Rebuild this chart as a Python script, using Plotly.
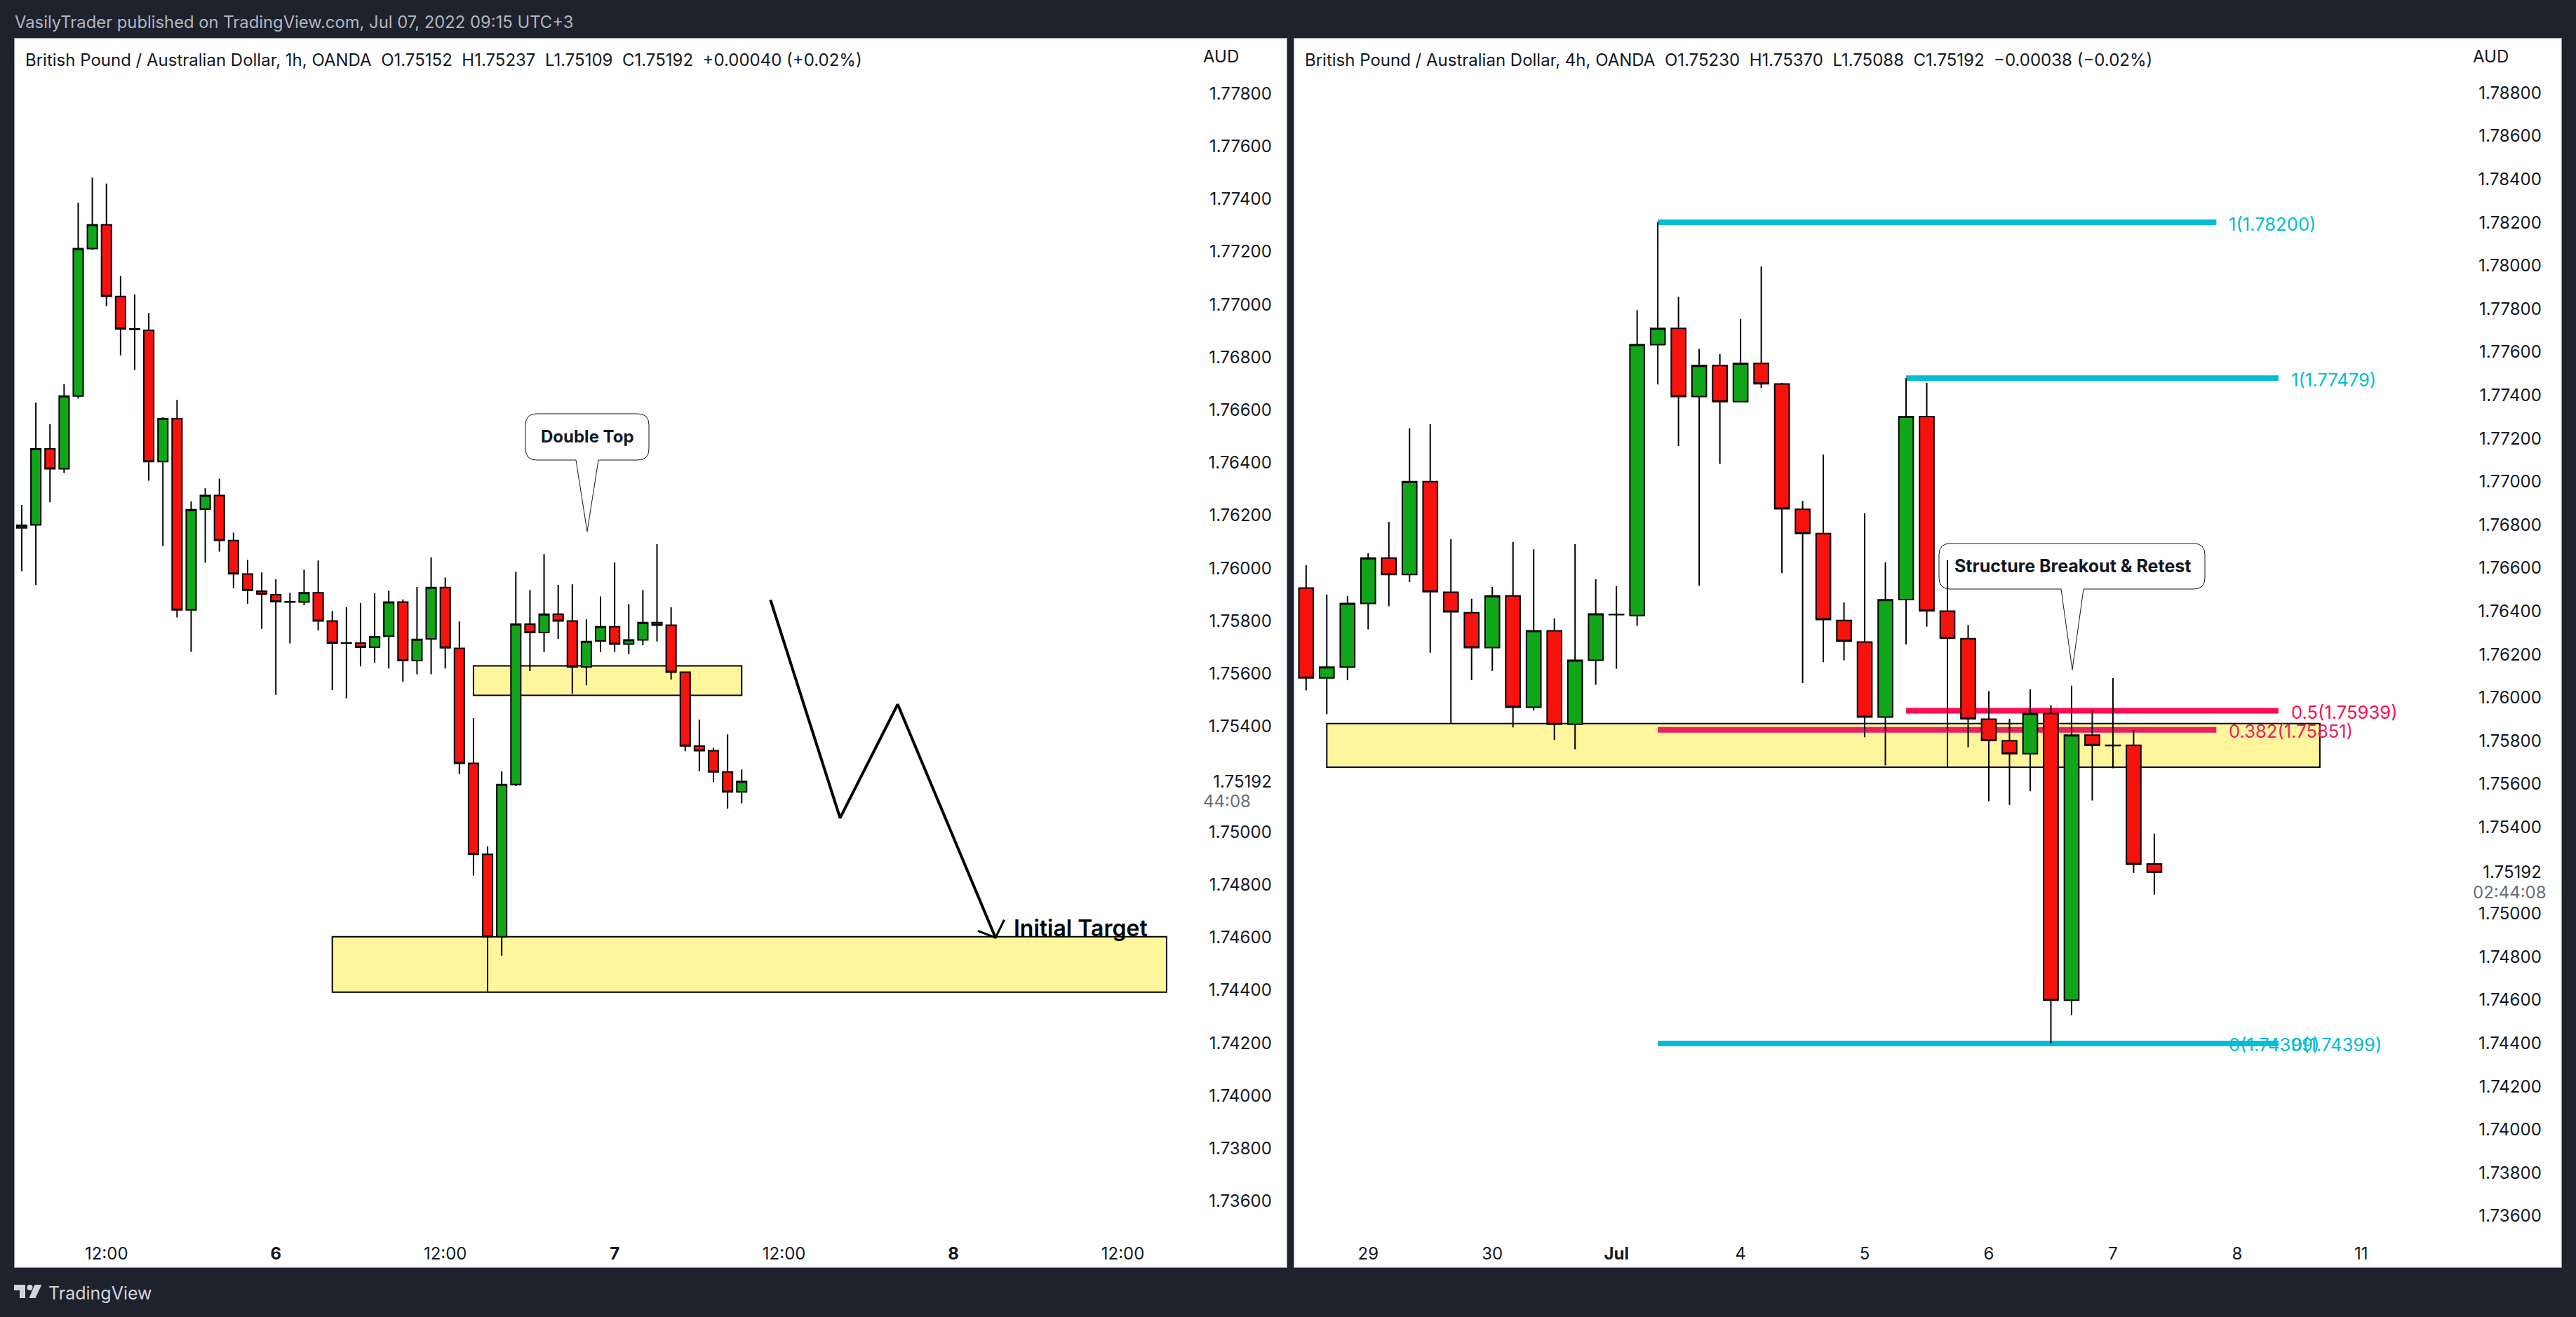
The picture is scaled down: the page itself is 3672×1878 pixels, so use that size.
import plotly.graph_objects as go

W, H = 3672, 1878
BG = '#1E222D'
TEXT = '#131722'
UP = '#11A61A'
DOWN = '#F7130D'
ZONE = '#FFF59D'
CYAN = '#00BCD4'
PINK = '#E91E63'
RED = '#FF0A50'
FONT = 'Inter'

# 1h chart, first bar is Jul 5 06:00
left_open = [1.76153, 1.76164, 1.76453, 1.76377, 1.76653, 1.77212, 1.77302, 1.77030, 1.76907, 1.76902,
             1.76404, 1.76567, 1.75842, 1.76224, 1.76276, 1.76105, 1.75978, 1.75913, 1.75900, 1.75873,
             1.75872, 1.75907, 1.75800, 1.75717, 1.75716, 1.75700, 1.75742, 1.75872, 1.75650, 1.75732,
             1.75927, 1.75696, 1.75260, 1.74915, 1.74603, 1.75180, 1.75788, 1.75756, 1.75826, 1.75800,
             1.75626, 1.75724, 1.75778, 1.75712, 1.75728, 1.75794, 1.75784, 1.75606, 1.75326, 1.75308,
             1.75228, 1.75152]
left_high = [1.76240, 1.76628, 1.76546, 1.76698, 1.77386, 1.77481, 1.77458, 1.77108, 1.77038, 1.76968,
             1.76572, 1.76638, 1.76253, 1.76303, 1.76340, 1.76135, 1.76032, 1.75984, 1.75958, 1.75907,
             1.75995, 1.76029, 1.75838, 1.75852, 1.75868, 1.75905, 1.75915, 1.75882, 1.75929, 1.76041,
             1.75965, 1.75798, 1.75432, 1.74945, 1.75230, 1.75987, 1.75917, 1.76053, 1.75937, 1.75939,
             1.75806, 1.75893, 1.76021, 1.75864, 1.75917, 1.76091, 1.75852, 1.75606, 1.75426, 1.75320,
             1.75370, 1.75237]
left_low = [1.75989, 1.75936, 1.76250, 1.76361, 1.76643, 1.77207, 1.76994, 1.76807, 1.76752, 1.76332,
            1.76084, 1.75813, 1.75683, 1.76021, 1.76063, 1.75924, 1.75866, 1.75770, 1.75520, 1.75715,
            1.75860, 1.75764, 1.75538, 1.75506, 1.75628, 1.75642, 1.75620, 1.75570, 1.75598, 1.75598,
            1.75620, 1.75220, 1.74835, 1.74393, 1.74531, 1.75174, 1.75610, 1.75682, 1.75732, 1.75524,
            1.75556, 1.75682, 1.75682, 1.75674, 1.75708, 1.75722, 1.75578, 1.75306, 1.75230, 1.75190,
            1.75089, 1.75109]
left_close = [1.76163, 1.76453, 1.76377, 1.76653, 1.77212, 1.77302, 1.77031, 1.76907, 1.76905, 1.76404,
              1.76567, 1.75842, 1.76222, 1.76276, 1.76106, 1.75979, 1.75916, 1.75902, 1.75873, 1.75872,
              1.75907, 1.75800, 1.75716, 1.75716, 1.75700, 1.75740, 1.75872, 1.75650, 1.75730, 1.75927,
              1.75698, 1.75260, 1.74915, 1.74603, 1.75180, 1.75788, 1.75756, 1.75826, 1.75800, 1.75626,
              1.75722, 1.75778, 1.75712, 1.75728, 1.75794, 1.75784, 1.75606, 1.75326, 1.75308, 1.75228,
              1.75152, 1.75192]
left_x = list(range(len(left_open)))

# 4h chart
right_open = [1.76507, 1.76091, 1.76141, 1.76436, 1.76646, 1.76570, 1.77000, 1.76488, 1.76393, 1.76231,
              1.76471, 1.75955, 1.76309, 1.75877, 1.76173, 1.76384, 1.76380, 1.77634, 1.77709, 1.77394,
              1.77537, 1.77370, 1.77547, 1.77452, 1.76872, 1.76760, 1.76357, 1.76257, 1.75910, 1.76454,
              1.77301, 1.76400, 1.76273, 1.75900, 1.75800, 1.75740, 1.75926, 1.74599, 1.75826, 1.75779,
              1.75779, 1.75230]
right_high = [1.76613, 1.76477, 1.76471, 1.76669, 1.76814, 1.77247, 1.77265, 1.76734, 1.76458, 1.76512,
              1.76721, 1.76687, 1.76367, 1.76710, 1.76548, 1.76516, 1.77794, 1.78200, 1.77856, 1.77614,
              1.77591, 1.77753, 1.77996, 1.77457, 1.76911, 1.77125, 1.76441, 1.76853, 1.76626, 1.77479,
              1.77457, 1.76636, 1.76336, 1.76029, 1.75902, 1.76038, 1.75964, 1.76055, 1.75938, 1.76090,
              1.75850, 1.75370]
right_low = [1.76033, 1.75923, 1.76080, 1.76316, 1.76423, 1.76536, 1.76208, 1.75880, 1.76080, 1.76123,
             1.75862, 1.75940, 1.75804, 1.75761, 1.76059, 1.76134, 1.76333, 1.77450, 1.77165, 1.76518,
             1.77082, 1.77370, 1.77433, 1.76576, 1.76067, 1.76164, 1.76173, 1.75817, 1.75686, 1.76247,
             1.76329, 1.75680, 1.75770, 1.75520, 1.75503, 1.75567, 1.74399, 1.74530, 1.75524, 1.75673,
             1.75188, 1.75088]
right_close = [1.76091, 1.76141, 1.76436, 1.76646, 1.76570, 1.77000, 1.76490, 1.76397, 1.76231, 1.76471,
               1.75955, 1.76309, 1.75877, 1.76173, 1.76387, 1.76385, 1.77634, 1.77709, 1.77394, 1.77537,
               1.77370, 1.77547, 1.77453, 1.76874, 1.76760, 1.76361, 1.76261, 1.75910, 1.76453, 1.77301,
               1.76402, 1.76275, 1.75902, 1.75801, 1.75740, 1.75926, 1.74599, 1.75826, 1.75779, 1.75778,
               1.75229, 1.75192]
right_x = list(range(len(right_open)))

# axes
left_xticks = [6, 18, 30, 42, 54, 66, 78]
left_xlabels = ['12:00', '<b>6</b>', '12:00', '<b>7</b>', '12:00', '<b>8</b>', '12:00']
right_xticks = [3, 9, 15, 21, 27, 33, 39, 45, 51]
right_xlabels = ['29', '30', '<b>Jul</b>', '4', '5', '6', '7', '8', '11']
left_yticks = [1.736, 1.738, 1.740, 1.742, 1.744, 1.746, 1.748, 1.750, 1.75192, 1.754, 1.756, 1.758, 1.760,
               1.762, 1.764, 1.766, 1.768, 1.770, 1.772, 1.774, 1.776, 1.778]
right_yticks = [1.736, 1.738, 1.740, 1.742, 1.744, 1.746, 1.748, 1.750, 1.75192, 1.754, 1.756, 1.758, 1.760,
                1.762, 1.764, 1.766, 1.768, 1.770, 1.772, 1.774, 1.776, 1.778, 1.780, 1.782, 1.784, 1.786, 1.788]

# drawings on the 1h chart
path_x = [53.04, 57.97, 62.05, 68.98]
path_y = [1.7588, 1.75053, 1.75484, 1.74599]
arrow_x = [67.73, 68.98, 69.6]
arrow_y = [1.74625, 1.74599, 1.74667]
left_zones = [(32, 51, 1.75518, 1.7563), (22, 81.1, 1.74393, 1.74603)]

# drawings on the 4h chart
right_zone = (1, 49, 1.75678, 1.7588)
fib_levels = [
    (17, 44, 1.782, CYAN, '1(1.78200)'),
    (29, 47, 1.77479, CYAN, '1(1.77479)'),
    (29, 47, 1.75939, RED, '0.5(1.75939)'),
    (17, 44, 1.75851, PINK, '0.382(1.75851)'),
    (17, 44, 1.74399, CYAN, '0(1.74399)'),
    (29, 47, 1.74399, CYAN, '0(1.74399)'),
]


def px(x):
    return x / W


def py(y):
    return 1 - y / H


def callout(x0, x1, y0, y1, base0, base1, tip_x, tip_y, r=16):
    # rounded box with a pointer coming out of its bottom edge
    pts = [('M', x0 + r, y0), ('L', x1 - r, y0), ('Q', x1, y0, x1, y0 + r), ('L', x1, y1 - r),
           ('Q', x1, y1, x1 - r, y1), ('L', base1, y1), ('L', tip_x, tip_y), ('L', base0, y1),
           ('L', x0 + r, y1), ('Q', x0, y1, x0, y1 - r), ('L', x0, y0 + r), ('Q', x0, y0, x0 + r, y0)]
    out = ''
    for p in pts:
        nums = []
        for k in range(1, len(p), 2):
            nums.append(f'{px(p[k]):.5f},{py(p[k + 1]):.5f}')
        out += p[0] + ' '.join(nums) + ' '
    return out + 'Z'


def label(x, y, text, size=26, color=TEXT, weight=400, xanchor='left'):
    return dict(x=px(x), y=py(y), xref='paper', yref='paper', text=text, showarrow=False, xanchor=xanchor,
                yanchor='middle', font=dict(family=FONT, size=size, color=color, weight=weight))


fig = go.Figure()
for xs, o, h, l, c, xa, ya in [(left_x, left_open, left_high, left_low, left_close, 'x', 'y'),
                               (right_x, right_open, right_high, right_low, right_close, 'x2', 'y2')]:
    fig.add_trace(go.Candlestick(
        x=xs, open=o, high=h, low=l, close=c, xaxis=xa, yaxis=ya, whiskerwidth=0,
        increasing=dict(fillcolor=UP, line=dict(color='black', width=2)),
        decreasing=dict(fillcolor=DOWN, line=dict(color='black', width=2))))

fig.add_trace(go.Scatter(x=path_x, y=path_y, mode='lines', line=dict(color='black', width=4), xaxis='x', yaxis='y'))
fig.add_trace(go.Scatter(x=arrow_x, y=arrow_y, mode='lines', line=dict(color='black', width=3), xaxis='x', yaxis='y'))

shapes = []
for x0, x1, y0, y1 in left_zones:
    shapes.append(dict(type='rect', xref='x', yref='y', x0=x0, x1=x1, y0=y0, y1=y1, layer='below',
                       fillcolor=ZONE, line=dict(color='black', width=2)))
shapes.append(dict(type='rect', xref='x2', yref='y2', x0=right_zone[0], x1=right_zone[1], y0=right_zone[2],
                   y1=right_zone[3], layer='below', fillcolor=ZONE, line=dict(color='black', width=2)))
for x0, x1, y, color, text in fib_levels:
    shapes.append(dict(type='line', xref='x2', yref='y2', x0=x0, x1=x1, y0=y, y1=y, layer='below',
                       line=dict(color=color, width=8)))
shapes.append(dict(type='path', xref='paper', yref='paper', layer='below', fillcolor='white',
                   line=dict(color=TEXT, width=1), path=callout(749, 925, 590, 656, 821, 853, 837, 758)))
shapes.append(dict(type='path', xref='paper', yref='paper', layer='below', fillcolor='white',
                   line=dict(color=TEXT, width=1), path=callout(2764, 3143, 775, 840, 2938, 2970, 2954, 955)))
# TradingView logo in the footer
logo = '#D1D4DC'
shapes.append(dict(type='path', xref='paper', yref='paper', fillcolor=logo, line=dict(width=0),
                   path=f'M{px(20)},{py(1832)} L{px(36)},{py(1832)} L{px(36)},{py(1851)} L{px(28)},{py(1851)} '
                        f'L{px(28)},{py(1840)} L{px(20)},{py(1840)} Z'))
shapes.append(dict(type='circle', xref='paper', yref='paper', fillcolor=logo, line=dict(width=0),
                   x0=px(38.5), x1=px(46.5), y0=py(1840), y1=py(1832)))
shapes.append(dict(type='path', xref='paper', yref='paper', fillcolor=logo, line=dict(width=0),
                   path=f'M{px(49.5)},{py(1832)} L{px(59.3)},{py(1832)} L{px(50.5)},{py(1851)} L{px(41.5)},{py(1851)} Z'))

annotations = [
    label(19, 31, 'VasilyTrader published on TradingView.com, Jul 07, 2022 09:15 UTC+3', size=23.8, color='#B2B5BE'),
    label(34, 85, 'British Pound / Australian Dollar, 1h, OANDA  O1.75152  H1.75237  L1.75109  C1.75192  +0.00040 (+0.02%)', size=24),
    label(1858, 85, 'British Pound / Australian Dollar, 4h, OANDA  O1.75230  H1.75370  L1.75088  C1.75192  −0.00038 (−0.02%)', size=24),
    label(1713, 80, 'AUD', size=24),
    label(3523, 80, 'AUD', size=24),
    label(1713, 1142, '44:08', size=24, color='#6A6D78'),
    label(3523, 1272, '02:44:08', size=24, color='#6A6D78'),
    label(837, 623, 'Double Top', size=24, weight=700, xanchor='center'),
    label(2954, 807, 'Structure Breakout &amp; Retest', size=25, weight=700, xanchor='center'),
    label(1443, 1323, 'Initial Target', size=32, color='black', weight=600),
    label(67, 1844, 'TradingView', size=25, color=logo),
]
for x0, x1, y, color, text in fib_levels:
    annotations.append(dict(x=x1, y=y, xref='x2', yref='y2', text=text, showarrow=False, xanchor='left', xshift=16,
                            yshift=-2, font=dict(family=FONT, size=25.6, color=color)))

axis_common = dict(showgrid=False, zeroline=False, showline=True, mirror=True, linecolor='#9598A1', linewidth=1,
                   ticks='inside', tickcolor='rgba(0,0,0,0)', ticklabelposition='inside', tickmode='array',
                   tickangle=0, tickfont=dict(family=FONT, size=24, color=TEXT))

fig.update_layout(
    width=W,
    height=H,
    margin=dict(l=0, r=0, t=0, b=0),
    paper_bgcolor=BG,
    plot_bgcolor='white',
    showlegend=False,
    boxgap=0,
    xaxis=dict(domain=[px(21), px(1834)], range=[-0.497, 89.6], anchor='y', tickvals=left_xticks, ticktext=left_xlabels,
               ticklen=8, rangeslider=dict(visible=False), **axis_common),
    yaxis=dict(domain=[py(1807), py(55)], range=[1.7335, 1.78008], anchor='x', side='right', tickvals=left_yticks,
               ticktext=[f'{v:.5f}' for v in left_yticks], ticklen=23, **axis_common),
    xaxis2=dict(domain=[px(1845), px(3651)], range=[-0.57, 60.67], anchor='y2', tickvals=right_xticks, ticktext=right_xlabels,
                ticklen=8, rangeslider=dict(visible=False), **axis_common),
    yaxis2=dict(domain=[py(1807), py(55)], range=[1.73363, 1.79051], anchor='x2', side='right', tickvals=right_yticks,
                ticktext=[f'{v:.5f}' for v in right_yticks], ticklen=30, **axis_common),
    shapes=shapes,
    annotations=annotations,
)

fig.write_html("out.html", config=dict(displayModeBar=False),
               post_script="document.body.style.margin='0';document.body.style.overflow='hidden';")
